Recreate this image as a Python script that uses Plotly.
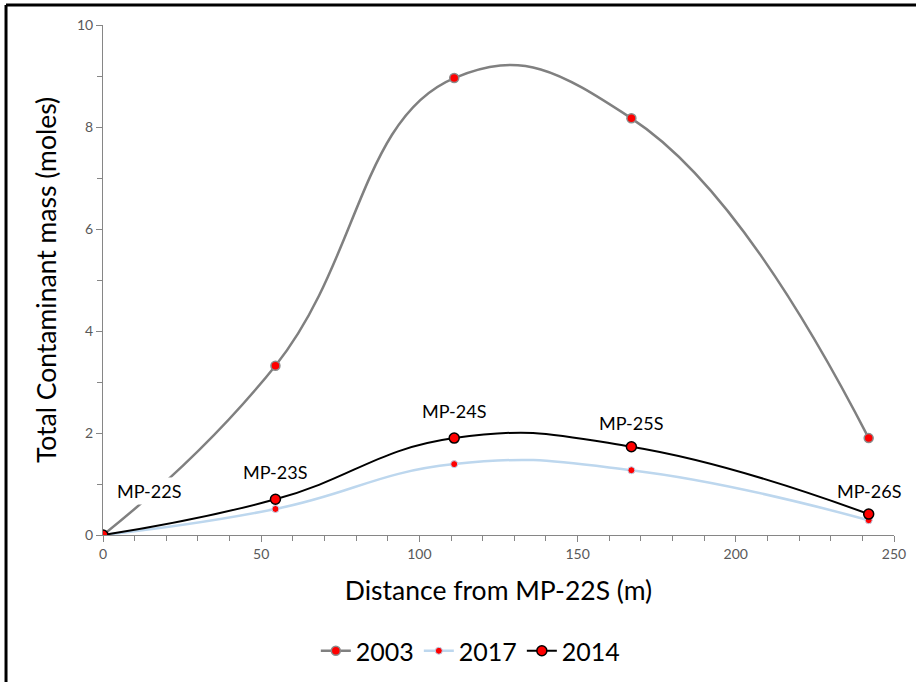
import plotly.graph_objects as go

# Sampling wells along the transect
wells = ["MP-22S", "MP-23S", "MP-24S", "MP-25S", "MP-26S"]
distance_m = [0, 54.5, 111, 167, 242]

# Total contaminant mass (moles) per survey year
mass_2003 = [0, 3.32, 8.96, 8.17, 1.90]
mass_2017 = [0, 0.51, 1.39, 1.27, 0.29]
mass_2014 = [0, 0.70, 1.90, 1.73, 0.41]

FONT = "Lato"
TICK_GREY = "#595959"
SMOOTH = 1.3

fig = go.Figure()

fig.add_trace(go.Scatter(
    x=distance_m, y=mass_2003, name="2003", mode="lines+markers",
    line=dict(color="#808080", width=2.5, shape="spline", smoothing=SMOOTH),
    marker=dict(color="#ff0000", size=9, line=dict(color="#8c8c8c", width=1.5)),
))
fig.add_trace(go.Scatter(
    x=distance_m, y=mass_2017, name="2017", mode="lines+markers",
    line=dict(color="#bdd7ee", width=2.5, shape="spline", smoothing=SMOOTH),
    marker=dict(color="#ff0000", size=7, line=dict(color="#bdd7ee", width=1)),
))
fig.add_trace(go.Scatter(
    x=distance_m, y=mass_2014, name="2014", mode="lines+markers",
    line=dict(color="#000000", width=2, shape="spline", smoothing=SMOOTH),
    marker=dict(color="#ff0000", size=10, line=dict(color="#000000", width=1.5)),
))

# Well name labels above the 2014 points
label_shift = [0, 27, 27, 24, 23]
for name, x, y, dy in zip(wells, distance_m, mass_2014, label_shift):
    if name == "MP-22S":
        fig.add_annotation(x=x, y=y, text=name, showarrow=False,
                           xanchor="left", xshift=11, yshift=44,
                           bgcolor="white", borderpad=2,
                           font=dict(family=FONT, size=18, color="black"))
    else:
        fig.add_annotation(x=x, y=y, text=name, showarrow=False,
                           yshift=dy,
                           font=dict(family=FONT, size=18, color="black"))

# Frame lines along the top and left edges
fig.add_shape(type="line", xref="paper", yref="paper",
              x0=-0.1226, x1=1.03, y0=1.039, y1=1.039,
              line=dict(color="black", width=3))
fig.add_shape(type="line", xref="paper", yref="paper",
              x0=-0.1226, x1=-0.1226, y0=1.039, y1=-0.30,
              line=dict(color="black", width=3))

axis_common = dict(
    showgrid=False, zeroline=False, showline=True, automargin=False,
    linecolor="#868686", linewidth=1,
    ticks="outside", ticklen=6, tickcolor="#868686",
    tickfont=dict(family=FONT, size=14, color=TICK_GREY),
)

fig.update_xaxes(
    range=[0, 250], dtick=50, **axis_common,
    minor=dict(dtick=10, ticks="outside", ticklen=5, tickcolor="#868686"),
    title=dict(text="Distance from MP-22S (m)",
               font=dict(family=FONT, size=26.5, color="black"), standoff=20),
)
fig.update_yaxes(
    range=[0, 10], dtick=2, **axis_common,
    minor=dict(dtick=1, ticks="outside", ticklen=5, tickcolor="#868686"),
    title=dict(text="Total Contaminant mass (moles)",
               font=dict(family=FONT, size=26.5, color="black"), standoff=12),
)

fig.update_layout(
    width=916, height=682,
    margin=dict(l=103, r=22, t=25, b=147, autoexpand=False),
    paper_bgcolor="white", plot_bgcolor="white",
    showlegend=True,
    legend=dict(orientation="h", x=0.465, xanchor="center", y=-0.2275, yanchor="middle",
                font=dict(family=FONT, size=25, color="black"),
                itemwidth=30),
)

fig.write_html("out.html")
